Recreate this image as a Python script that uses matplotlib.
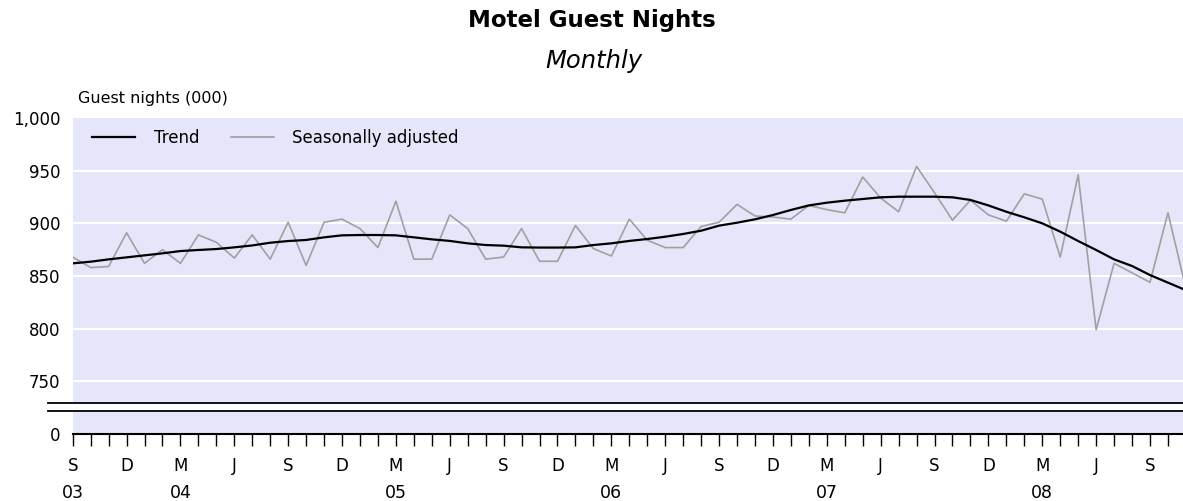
#Motel guest nights, trend and seasonally adjusted (monthly, Sep 2003 - Nov 2008)

import numpy as np
import matplotlib
matplotlib.use('Agg')
import matplotlib.pyplot as plt

#Month index: 0 = Sep 03
months=np.arange(63)

#Seasonally adjusted guest nights (000)
seasonal=[868,858,859,891,862,875,862,889,882,867,
	889,866,901,860,901,904,895,877,921,866,
	866,908,895,866,868,895,864,864,898,876,
	869,904,884,877,877,897,901,918,907,906,
	904,917,913,910,944,924,911,954,929,903,
	922,908,902,928,923,868,946,799,862,853,
	844,910,838]

#Trend guest nights (000)
trend=[862,863.6,865.8,867.7,869.6,871.5,873.7,874.7,875.6,877.2,
	879,881.6,883.2,884.2,886.7,888.6,888.9,888.9,888.6,886.7,
	884.8,883.3,881,879.4,878.8,877.2,877,877,877.2,879.4,
	881,883.3,885.1,887.3,889.9,893,897.8,900.6,903.8,907.9,
	912.7,917,919.6,921.5,923.1,924.7,925.3,925.3,925.3,924.7,
	922.2,917,911,905.7,900,892.1,883.2,874.7,865.8,859.5,
	850.9,843.7,836.5]

#Axis labels
month_pos=list(range(0,61,3))
month_labels=['S','D','M','J']*5+['S']
year_pos=[0,6,18,30,42,54]
year_labels=['03','04','05','06','07','08']
grid_values=[750,800,850,900,950]
ytick_values=[700,750,800,850,900,950,1000]
ytick_labels=['0','750','800','850','900','950','1,000']

W,H=1183,501
fig=plt.figure(figsize=(W/100,H/100),dpi=100)
left_px,right_px,top_px,bottom_px=72.7,1183,118,434
ax=fig.add_axes([left_px/W,(H-bottom_px)/H,(right_px-left_px)/W,(bottom_px-top_px)/H])
ax.set_facecolor('#E6E6FA')
for s in ['top','right','left']:
	ax.spines[s].set_visible(False)
ax.spines['bottom'].set_linewidth(1.5)

ax.set_xlim(0,(right_px-left_px)/17.955)
ax.set_ylim(700,1000)

#Gridlines
for g in grid_values:
	ax.axhline(g,color='white',linewidth=1.5,zorder=1)

#Axis break
xb=(48-left_px)/(right_px-left_px)
ax.axhspan(721.6,729.8,xmin=xb,xmax=1,color='white',clip_on=False,zorder=2)
ax.axhline(729.8,xmin=xb,xmax=1,color='black',linewidth=1.3,clip_on=False,zorder=3)
ax.axhline(721.6,xmin=xb,xmax=1,color='black',linewidth=1.3,clip_on=False,zorder=3)

#Lines
ax.plot(months,trend,color='black',linewidth=1.6,label='Trend',zorder=5)
ax.plot(months,seasonal,color='#A0A0A0',linewidth=1.2,label='Seasonally adjusted',zorder=4)

#Y axis
ax.set_yticks(ytick_values)
ax.set_yticklabels(ytick_labels,fontsize=12)
ax.tick_params(axis='y',length=0,pad=9)

#X axis
ax.set_xticks(range(0,62))
ax.set_xticklabels([])
ax.tick_params(axis='x',direction='out',length=8.5,width=1,color='black')
for p,l in zip(month_pos,month_labels):
	ax.text(p,-0.101,l,transform=ax.get_xaxis_transform(),ha='center',va='center',fontsize=12)
for p,l in zip(year_pos,year_labels):
	ax.text(p,-0.187,l,transform=ax.get_xaxis_transform(),ha='center',va='center',fontsize=12.5)

#Legend
ax.legend(loc='upper left',bbox_to_anchor=((92-left_px)/(right_px-left_px),(bottom_px-129)/(bottom_px-top_px)),
	frameon=False,ncol=2,fontsize=12,borderpad=0,borderaxespad=0,handlelength=2.6,
	handletextpad=1.1,columnspacing=1.9)

#Titles
fig.text(592/W,1-20/H,'Motel Guest Nights',ha='center',va='center',fontsize=16.5,fontweight='bold')
fig.text(594/W,1-61/H,'Monthly',ha='center',va='center',fontsize=17.5,style='italic')
fig.text(78/W,1-98/H,'Guest nights (000)',ha='left',va='center',fontsize=11.5)

plt.savefig('out.png',dpi=100)
